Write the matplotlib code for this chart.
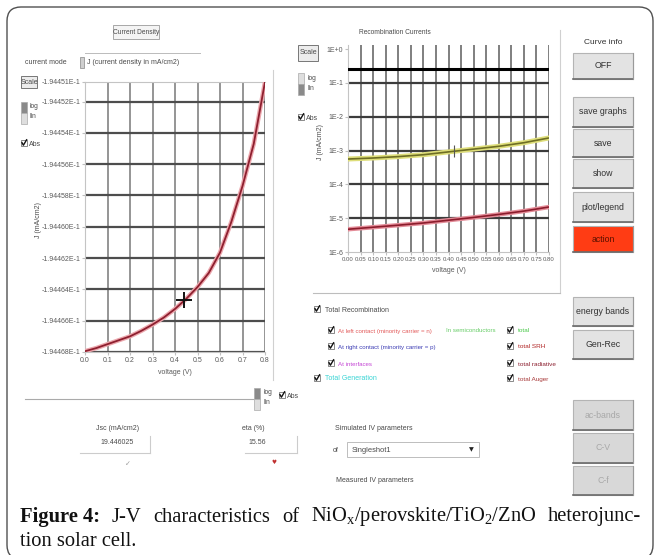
import matplotlib.pyplot as plt
from matplotlib.patches import Rectangle, FancyBboxPatch

W, H = 656, 555

# J-V curve (left graph)
jv_voltage = [0.00, 0.05, 0.10, 0.15, 0.20, 0.25, 0.30, 0.35, 0.40, 0.45,
              0.50, 0.55, 0.60, 0.65, 0.70, 0.75, 0.80]
jv_current = [-0.19446795, -0.19446775, -0.1944675, -0.19446725, -0.194467,
              -0.19446665, -0.19446625, -0.1944658, -0.19446525, -0.1944646,
              -0.19446385, -0.19446295, -0.19446165, -0.1944597, -0.1944574,
              -0.1944547, -0.19445075]
jv_yticks = [-0.194468, -0.194466, -0.194464, -0.194462, -0.19446, -0.194458,
             -0.194456, -0.194454, -0.194452, -0.19445075]
jv_yticklabels = ["-1.94468E-1", "-1.94466E-1", "-1.94464E-1", "-1.94462E-1",
                  "-1.94460E-1", "-1.94458E-1", "-1.94456E-1", "-1.94454E-1",
                  "-1.94452E-1", "-1.94451E-1"]
jv_xticks = [0.0, 0.1, 0.2, 0.3, 0.4, 0.5, 0.6, 0.7, 0.8]
jv_xticklabels = ["0.0", "0.1", "0.2", "0.3", "0.4", "0.5", "0.6", "0.7", "0.8"]
mpp_v, mpp_j = 0.44, -0.1944647

# recombination currents (right graph)
rec_voltage = [0.0, 0.1, 0.2, 0.3, 0.4, 0.5, 0.6, 0.7, 0.8]
rec_generation = [0.25, 0.25, 0.25, 0.25, 0.25, 0.25, 0.25, 0.25, 0.25]
rec_total = [5.6e-4, 6.0e-4, 6.6e-4, 7.5e-4, 9.1e-4, 1.1e-3, 1.33e-3, 1.7e-3, 2.35e-3]
rec_srh = [4.7e-6, 5.4e-6, 6.2e-6, 7.2e-6, 8.7e-6, 1.05e-5, 1.29e-5, 1.62e-5, 2.14e-5]
rec_xticks = [0.0, 0.05, 0.1, 0.15, 0.2, 0.25, 0.3, 0.35, 0.4, 0.45, 0.5,
              0.55, 0.6, 0.65, 0.7, 0.75, 0.8]
rec_xticklabels = ["0.00", "0.05", "0.10", "0.15", "0.20", "0.25", "0.30", "0.35",
                   "0.40", "0.45", "0.50", "0.55", "0.60", "0.65", "0.70", "0.75", "0.80"]
rec_yticks = [1e-6, 1e-5, 1e-4, 1e-3, 1e-2, 1e-1, 1e0]
rec_yticklabels = ["1E-6", "1E-5", "1E-4", "1E-3", "1E-2", "1E-1", "1E+0"]

jsc_value = "19.446025"
eta_value = "15.56"

plt.rcParams['font.family'] = ['Liberation Sans Narrow', 'Liberation Sans', 'DejaVu Sans']
plt.rcParams['mathtext.fontset'] = 'custom'
plt.rcParams['mathtext.rm'] = 'Liberation Serif'
plt.rcParams['mathtext.bf'] = 'Liberation Serif:bold'
plt.rcParams['mathtext.it'] = 'Liberation Serif:italic'

fig = plt.figure(figsize=(W / 100, H / 100), dpi=100)
bg = fig.add_axes([0, 0, 1, 1])
bg.set_xlim(0, W)
bg.set_ylim(H, 0)
bg.axis('off')

GUI = '#4a4a4a'
fs = 5.0


def px_axes(x0, y0, x1, y1):
    return fig.add_axes([x0 / W, 1 - y1 / H, (x1 - x0) / W, (y1 - y0) / H])


def label(x, y, s, size=fs, color=GUI, ha='left', **kw):
    return bg.text(x, y, s, fontsize=size, color=color, ha=ha, va='center', **kw)


def button(x0, y0, x1, y1, s, face='#e3e3e3', tcolor='#333333'):
    bg.add_patch(Rectangle((x0, y0), x1 - x0, y1 - y0, facecolor=face,
                           edgecolor='#b4b4b4', lw=0.8))
    bg.plot([x0, x1], [y1, y1], color='#6a6a6a', lw=1.2)
    bg.plot([x1, x1], [y0, y1], color='#9a9a9a', lw=0.8)
    label((x0 + x1) / 2, (y0 + y1) / 2, s, size=6.3, color=tcolor, ha='center')


def checkbox(x, y):
    bg.add_patch(Rectangle((x - 3, y - 3), 6, 6, facecolor='white',
                           edgecolor='#777777', lw=0.6))
    bg.plot([x - 2, x - 0.6, x + 2.6], [y - 0.3, y + 2.2, y - 3.2], color='#111111', lw=1.0)


def loglin(x, y, top_dark):
    bg.add_patch(Rectangle((x, y), 6, 11, facecolor='#8a8a8a' if top_dark else '#dedede',
                           edgecolor='#aaaaaa', lw=0.5))
    bg.add_patch(Rectangle((x, y + 11), 6, 11, facecolor='#dedede' if top_dark else '#8a8a8a',
                           edgecolor='#aaaaaa', lw=0.5))
    label(x + 9, y + 5, "log", size=4.8)
    label(x + 9, y + 15, "lin", size=4.8)


# outer rounded frame
bg.add_patch(FancyBboxPatch((7, 7), 646, 552, boxstyle="round,pad=0,rounding_size=14",
                            facecolor='white', edgecolor='#505050', lw=1.0))

# ---------- left panel ----------
bg.add_patch(Rectangle((113, 25), 46, 14, facecolor='#f4f4f4', edgecolor='#9a9a9a', lw=0.6))
label(136, 32, "Current Density", size=4.8, ha='center')
label(25, 63, "current mode")
bg.plot([85, 200], [53, 53], color='#bbbbbb', lw=0.7)
bg.add_patch(Rectangle((80, 57), 4, 11, facecolor='#cfcfcf', edgecolor='#888888', lw=0.5))
label(87, 63, "J (current density in mA/cm2)")
bg.add_patch(Rectangle((21, 76), 16, 12, facecolor='#ececec', edgecolor='#777777', lw=0.7))
label(29, 82, "Scale", size=5, ha='center')
loglin(21, 102, True)
checkbox(24, 143)
label(29, 145, "Abs")
label(38, 220, "J (mA/cm2)", rotation=90, ha='center')
bg.plot([273, 273], [70, 380], color='#d0d0d0', lw=0.8)
bg.plot([25, 253], [399, 399], color='#aaaaaa', lw=0.8)
loglin(254, 388, True)
checkbox(282, 395)
label(287, 396, "Abs")

label(118, 429, "Jsc (mA/cm2)", ha='center')
bg.plot([150, 150], [436, 453], color='#cccccc', lw=0.8)
bg.plot([80, 150], [453, 453], color='#cccccc', lw=0.8)
label(100, 443, jsc_value)
label(125, 464, "\u2713", size=5, color='#9a9a9a', family='DejaVu Sans')
label(253, 429, "eta (%)", ha='center')
bg.plot([297, 297], [436, 453], color='#cccccc', lw=0.8)
bg.plot([245, 297], [453, 453], color='#cccccc', lw=0.8)
label(248, 443, eta_value)
label(271, 462, "\u2665", size=4, color='#c03030', family='DejaVu Sans')

label(335, 428, "Simulated IV parameters")
label(333, 450, "of")
bg.add_patch(Rectangle((347, 442), 132, 15, facecolor='white', edgecolor='#bdbdbd', lw=0.7))
label(352, 450, "Singleshot1", size=5.4)
label(471, 450, "\u25bc", size=4.5, color='#222222', family='DejaVu Sans', ha='center')
label(336, 481, "Measured IV parameters")

ax1 = px_axes(85, 82, 265, 352)
ax1.plot(jv_voltage, jv_current, color='#eca7ad', lw=3.2, solid_capstyle='round', zorder=3)
ax1.plot(jv_voltage, jv_current, color='#8e1f2f', lw=1.3, zorder=4)
ax1.plot([mpp_v], [mpp_j], marker='+', ms=11, mew=1.4, color='#111111', zorder=5)
ax1.set_xlim(0, 0.8)
ax1.set_ylim(jv_yticks[0], jv_yticks[-1])
ax1.set_xticks(jv_xticks)
ax1.set_xticklabels(jv_xticklabels)
ax1.set_yticks(jv_yticks)
ax1.set_yticklabels(jv_yticklabels)
for v in jv_xticks[1:]:
    ax1.axvline(v, color='#8c8c8c', lw=1.3, zorder=1)
for j in jv_yticks[:-1]:
    ax1.axhline(j, color='#4d4d4d', lw=1.6, zorder=2)
for s in ax1.spines.values():
    s.set_color('#c4c4c4')
    s.set_linewidth(0.8)
ax1.spines['right'].set_visible(False)
ax1.tick_params(labelsize=5.0, colors='#c0c0c0', labelcolor='#5a5a5a', length=2.5, pad=1)
ax1.set_xlabel("voltage (V)", fontsize=5.0, color='#5a5a5a', labelpad=4)

# ---------- right panel ----------
label(395, 33, "Recombination Currents", size=4.8, ha='center')
bg.plot([560, 560], [30, 293], color='#d0d0d0', lw=0.8)
bg.plot([313, 560], [293, 293], color='#bdbdbd', lw=0.8)
bg.add_patch(Rectangle((298, 45), 20, 16, facecolor='#ececec', edgecolor='#777777', lw=0.7))
label(308, 53, "Scale", size=5, ha='center')
loglin(298, 73, False)
checkbox(301, 117)
label(306, 119, "Abs")
label(320, 142, "J (mA/cm2)", rotation=90, ha='center')

ax2 = px_axes(348, 45, 549, 252)
ax2.set_yscale('log')
ax2.plot(rec_voltage, rec_generation, color='#000000', lw=2.2, zorder=4)
ax2.plot(rec_voltage, rec_total, color='#dede7a', lw=3.6, zorder=3)
ax2.plot(rec_voltage, rec_total, color='#6e6e24', lw=1.2, zorder=4)
ax2.plot(rec_voltage, rec_srh, color='#e48c98', lw=3.2, zorder=3)
ax2.plot(rec_voltage, rec_srh, color='#8c1c2c', lw=1.2, zorder=4)
ax2.plot([0.42], [1e-3], marker='|', ms=9, mew=0.8, color='#555555', zorder=5)
ax2.set_xlim(0, 0.8)
ax2.set_ylim(1e-6, 10 ** (4 / 33.83))
ax2.set_xticks(rec_xticks)
ax2.set_xticklabels(rec_xticklabels)
ax2.set_yticks(rec_yticks)
ax2.set_yticklabels(rec_yticklabels)
ax2.minorticks_off()
for v in rec_xticks[1:]:
    ax2.axvline(v, color='#6a6a6a', lw=1.2, zorder=1)
for r in rec_yticks[1:-1]:
    ax2.axhline(r, color='#3c3c3c', lw=1.6, zorder=2)
for s in ax2.spines.values():
    s.set_color('#c4c4c4')
    s.set_linewidth(0.8)
ax2.spines['right'].set_visible(False)
ax2.spines['top'].set_visible(False)
ax2.tick_params(axis='y', labelsize=5.0, colors='#c0c0c0', labelcolor='#5a5a5a', length=2.5, pad=1)
ax2.tick_params(axis='x', labelsize=4.3, colors='#c0c0c0', labelcolor='#5a5a5a', length=2.5, pad=1)
ax2.set_xlabel("voltage (V)", fontsize=5.0, color='#5a5a5a', labelpad=4)

# legend check boxes
checkbox(317, 309)
label(325, 310, "Total Recombination")
rows = [330, 346, 363]
left_items = [("At left contact (minority carrier = n)", '#e25a5a'),
              ("At right contact (minority carrier = p)", '#3c3cb4'),
              ("At interfaces", '#c444d4')]
for y, (s, c) in zip(rows, left_items):
    checkbox(331, y)
    label(338, y + 1, s, size=4.4, color=c)
label(446, 331, "In semiconductors", size=4.4, color='#66cc66')
right_items = [("total", '#48c848'), ("total SRH", '#b02424'),
               ("total radiative", '#8c2030'), ("total Auger", '#a83a3a')]
for y, (s, c) in zip(rows + [378], right_items):
    checkbox(510, y)
    label(518, y + 1, s, size=4.6, color=c)
checkbox(317, 378)
label(325, 379, "Total Generation", color='#38d4d4')

# ---------- button column ----------
label(603, 42, "Curve info", size=6, color='#333333', ha='center')
button(573, 53, 633, 79, "OFF")
button(573, 97, 633, 127, "save graphs")
button(573, 129, 633, 157, "save")
button(573, 159, 633, 188, "show")
button(573, 192, 633, 222, "plot/legend")
button(573, 226, 633, 252, "action", face='#ff3c14', tcolor='#5a1000')
button(573, 297, 633, 326, "energy bands")
button(573, 330, 633, 359, "Gen-Rec")
button(573, 400, 633, 430, "ac-bands", face='#d8d8d8', tcolor='#a8a8a8')
button(573, 433, 633, 463, "C-V", face='#d8d8d8', tcolor='#a8a8a8')
button(573, 466, 633, 495, "C-f", face='#d8d8d8', tcolor='#a8a8a8')

# ---------- caption (justified first line) ----------
cap_words = ["Figure 4:", "J-V", "characteristics", "of",
             r"NiO$_\mathrm{x}$/perovskite/TiO$_\mathrm{2}$/ZnO", "heterojunc-"]
cap_size = 14.8
words = []
for i, w in enumerate(cap_words):
    words.append(bg.text(0, 517, w, fontsize=cap_size, family='Liberation Serif',
                         fontweight='bold' if i == 0 else 'normal',
                         color='#111111', va='center'))
renderer = fig.canvas.get_renderer()
widths = [t.get_window_extent(renderer).width for t in words]
gap = (641 - 20 - sum(widths)) / (len(words) - 1)
x = 20
for t, w in zip(words, widths):
    t.set_x(x)
    x += w + gap
bg.text(20, 541, "tion solar cell.", fontsize=cap_size, family='Liberation Serif',
        color='#111111', va='center')

fig.savefig("out.png", dpi=100)
